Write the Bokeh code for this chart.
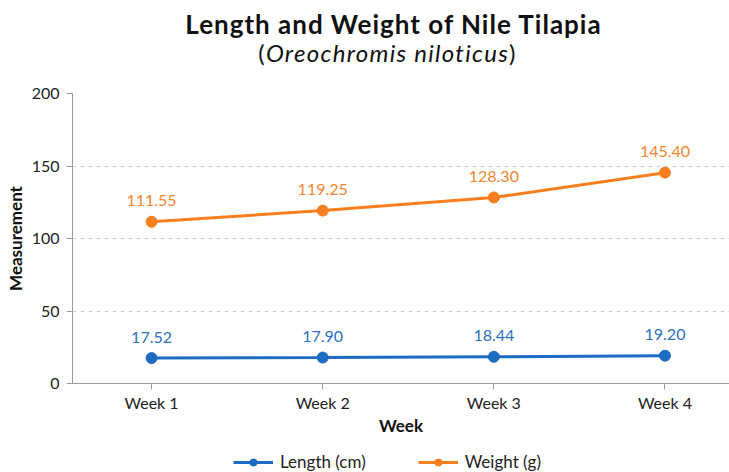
from bokeh.plotting import figure
from bokeh.layouts import column
from bokeh.models import (ColumnDataSource, Range1d, FixedTicker, LabelSet,
                          Legend, LegendItem, Div)
from bokeh.core.properties import value
from bokeh.embed import file_html
from bokeh.resources import INLINE

weeks = ["Week 1", "Week 2", "Week 3", "Week 4"]
length_cm = [17.52, 17.90, 18.44, 19.20]
weight_g = [111.55, 119.25, 128.30, 145.40]
y_ticks = [0, 50, 100, 150, 200]

BLUE = "#1c6dc2"
ORANGE = "#f77f1f"
FONT = "Lato"

xs = [i + 1 for i in range(len(weeks))]
src_len = ColumnDataSource(dict(x=xs, y=length_cm, t=[f"{v:.2f}" for v in length_cm]))
src_wt = ColumnDataSource(dict(x=xs, y=weight_g, t=[f"{v:.2f}" for v in weight_g]))

title = Div(
    text=("<div style='width:729px;font-family:Lato;color:#111;'>"
          "<div style='box-sizing:border-box;width:729px;padding-left:58px;text-align:center;"
          "font-size:26px;font-weight:bold;letter-spacing:1px;line-height:30px;padding-top:9px;'>"
          "Length and Weight of Nile Tilapia</div>"
          "<div style='box-sizing:border-box;width:729px;padding-left:46px;text-align:center;"
          "font-size:24px;letter-spacing:1.3px;line-height:28px;'>"
          "(<i>Oreochromis niloticus</i>)</div>"
          "</div>"),
    width=729, height=80, margin=0)

p = figure(width=729, height=363, output_backend="svg", toolbar_location=None,
           x_range=Range1d(0.538, 4.377), y_range=Range1d(0, 200),
           min_border_left=72, min_border_right=0, min_border_top=13, min_border_bottom=60,
           margin=0)
p.outline_line_color = None
p.background_fill_color = "white"
p.border_fill_color = "white"

# axes
p.xaxis.ticker = FixedTicker(ticks=xs)
p.xaxis.major_label_overrides = {x: w for x, w in zip(xs, weeks)}
p.yaxis.ticker = FixedTicker(ticks=y_ticks)
for ax in (p.xaxis, p.yaxis):
    ax.axis_line_color = "#9a9a9a"
    ax.major_tick_line_color = "#9a9a9a"
    ax.minor_tick_line_color = None
    ax.major_tick_in = 0
    ax.major_tick_out = 6
    ax.major_label_text_font = FONT
    ax.major_label_text_font_size = "16px"
    ax.major_label_text_color = "#222222"
    ax.axis_label_text_font = FONT
    ax.axis_label_text_font_size = "17px"
    ax.axis_label_text_font_style = "bold"
    ax.axis_label_text_color = "#111111"
p.xaxis.axis_label = "Week"
p.yaxis.axis_label = "Measurement"
p.xaxis.major_label_standoff = 3
p.xaxis.axis_label_standoff = 0
p.yaxis.major_label_standoff = 7
p.yaxis.axis_label_standoff = 3

p.xgrid.grid_line_color = None
p.ygrid.ticker = FixedTicker(ticks=y_ticks)
p.ygrid.grid_line_color = "#cccccc"
p.ygrid.grid_line_dash = "4 4"

# series
l1 = p.line("x", "y", source=src_len, line_color=BLUE, line_width=3)
c1 = p.scatter("x", "y", source=src_len, size=11, fill_color=BLUE, line_color=BLUE)
l2 = p.line("x", "y", source=src_wt, line_color=ORANGE, line_width=3)
c2 = p.scatter("x", "y", source=src_wt, size=11, fill_color=ORANGE, line_color=ORANGE)

for src, col in ((src_len, "#2a71bf"), (src_wt, "#f2852f")):
    p.add_layout(LabelSet(x="x", y="y", text="t", source=src, y_offset=21,
                          text_align="center", text_baseline="middle",
                          text_font=value(FONT), text_font_size=value("16px"),
                          text_color=col))

# legend strip (same series, drawn out of view so only the legend shows)
lf = figure(width=729, height=29, output_backend="svg", toolbar_location=None,
            x_range=Range1d(0.538, 4.377), y_range=Range1d(-1000, -999),
            min_border=0, margin=0, x_axis_location=None, y_axis_location=None)
lf.outline_line_color = None
lf.xgrid.grid_line_color = None
lf.ygrid.grid_line_color = None
ll1 = lf.line("x", "y", source=src_len, line_color=BLUE, line_width=3)
lc1 = lf.scatter("x", "y", source=src_len, size=11, fill_color=BLUE, line_color=BLUE)
ll2 = lf.line("x", "y", source=src_wt, line_color=ORANGE, line_width=3)
lc2 = lf.scatter("x", "y", source=src_wt, size=11, fill_color=ORANGE, line_color=ORANGE)
legend = Legend(items=[LegendItem(label="Length (cm)", renderers=[ll1, lc1]),
                       LegendItem(label="Weight (g)", renderers=[ll2, lc2])],
                orientation="horizontal", location=(161, 0),
                glyph_width=40, glyph_height=18, spacing=52, label_standoff=7,
                label_text_font=FONT, label_text_font_size="17px",
                label_text_color="#222222", border_line_color=None,
                background_fill_alpha=0, padding=0, margin=0)
lf.add_layout(legend, "center")

layout = column(title, p, lf, spacing=0)
open("out.html", "w").write(file_html(layout, INLINE))
